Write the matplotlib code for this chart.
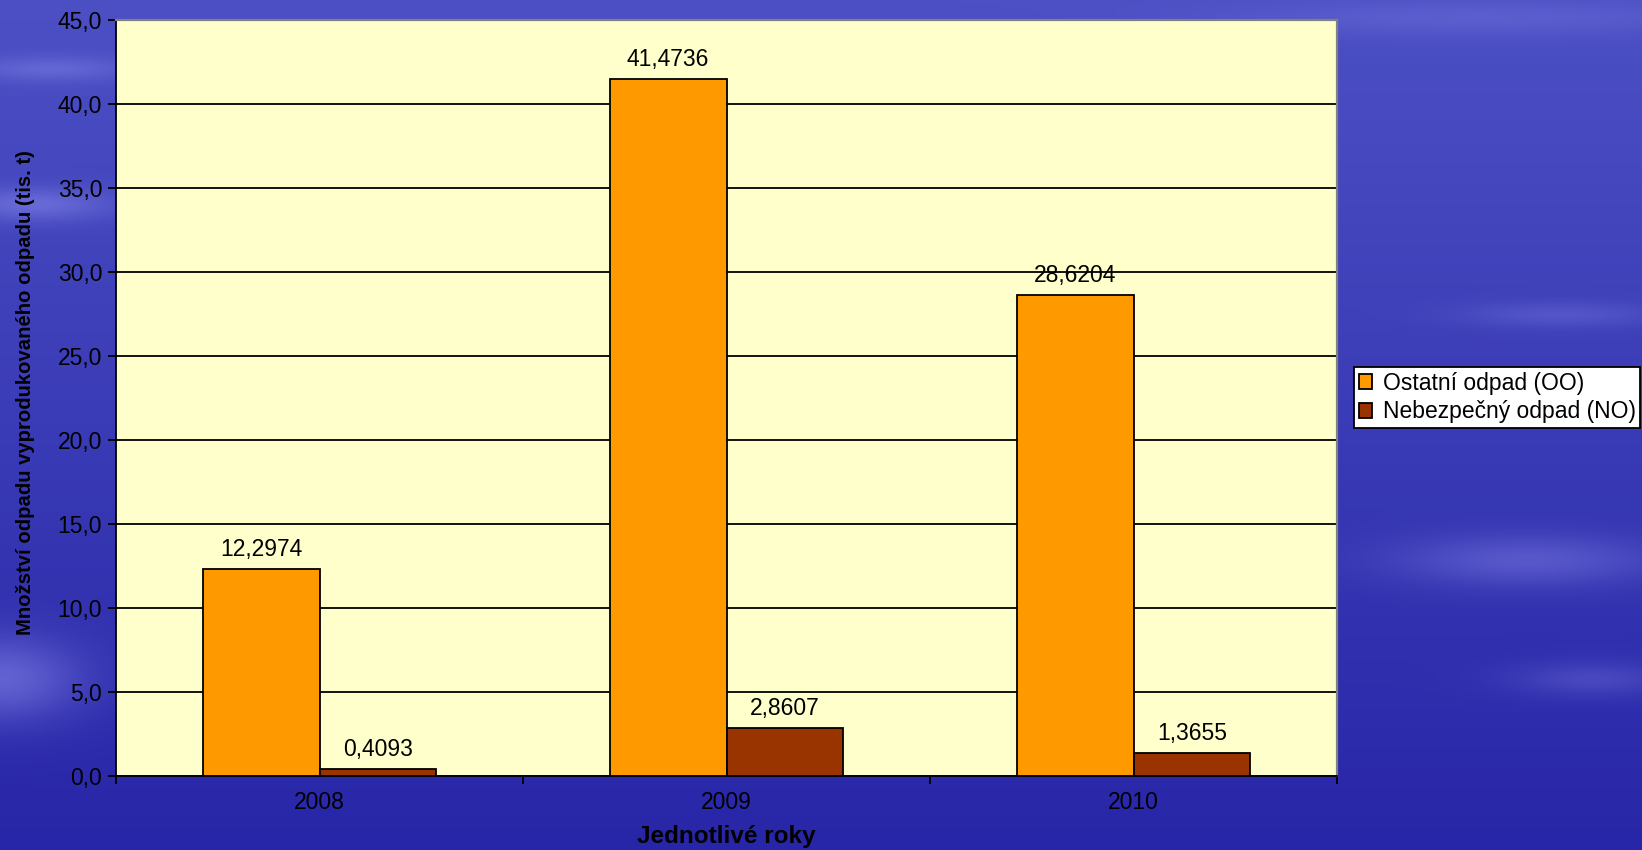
import numpy as np
import matplotlib
matplotlib.use("Agg")
import matplotlib.pyplot as plt
from matplotlib.ticker import FuncFormatter, FixedLocator

plt.rcParams["font.family"] = ["Liberation Sans", "DejaVu Sans"]

years = ["2008", "2009", "2010"]
ostatni = [12.2974, 41.4736, 28.6204]
nebezpecny = [0.4093, 2.8607, 1.3655]
series_names = ["Ostatní odpad (OO)", "Nebezpečný odpad (NO)"]
colors = ["#FF9900", "#993300"]

W, H = 1642, 850
fig = plt.figure(figsize=(W / 100, H / 100), dpi=100)

# Background: blue gradient with soft horizontal streaks
bg = fig.add_axes([0, 0, 1, 1], zorder=-10)
yy, xx = np.mgrid[0:1:400j, 0:1:800j]
base_top = np.array([0x4c, 0x50, 0xc4]) / 255
base_bot = np.array([0x28, 0x26, 0xa8]) / 255
img = base_top[None, None, :] * (1 - yy[..., None]) + base_bot[None, None, :] * yy[..., None]
streak = (0.14 * np.exp(-((yy - 0.24) / 0.02) ** 2) * np.exp(-((xx - 0.02) / 0.05) ** 2)
          + 0.10 * np.exp(-((yy - 0.08) / 0.015) ** 2) * np.exp(-((xx - 0.03) / 0.05) ** 2)
          + 0.20 * np.exp(-((yy - 0.80) / 0.05) ** 2) * np.exp(-((xx - 0.0) / 0.05) ** 2)
          + 0.08 * np.exp(-((yy - 0.37) / 0.015) ** 2) * np.exp(-((xx - 0.95) / 0.06) ** 2)
          + 0.14 * np.exp(-((yy - 0.66) / 0.03) ** 2) * np.exp(-((xx - 0.93) / 0.08) ** 2)
          + 0.10 * np.exp(-((yy - 0.80) / 0.02) ** 2) * np.exp(-((xx - 0.97) / 0.05) ** 2)
          + 0.06 * np.exp(-((yy - 0.02) / 0.02) ** 2) * np.exp(-((xx - 0.9) / 0.15) ** 2))
img = np.clip(img + streak[..., None] * np.array([1.0, 1.0, 0.7]), 0, 1)
bg.imshow(img, aspect="auto", extent=[0, 1, 0, 1], origin="upper")
bg.axis("off")

L, R, T, B = 116, 1337, 20, 776
ax = fig.add_axes([L / W, 1 - B / H, (R - L) / W, (B - T) / H])
ax.set_facecolor("#FFFFCC")

x = np.arange(len(years))
bw = 0.287
b1 = ax.bar(x - bw / 2, ostatni, bw, color=colors[0], edgecolor="black", linewidth=1.3,
            label=series_names[0], zorder=3)
b2 = ax.bar(x + bw / 2, nebezpecny, bw, color=colors[1], edgecolor="black", linewidth=1.3,
            label=series_names[1], zorder=3)

def fmt4(v):
    return f"{v:.4f}".replace(".", ",")

for bars, vals in [(b1, ostatni), (b2, nebezpecny)]:
    for rect, v in zip(bars, vals):
        ax.annotate(fmt4(v), (rect.get_x() + rect.get_width() / 2, v),
                    xytext=(0, 6), textcoords="offset points",
                    ha="center", va="bottom", fontsize=16.5, color="black")

ax.set_xlim(-0.5, 2.5)
ax.set_ylim(0, 45)
ax.yaxis.set_major_locator(FixedLocator(np.arange(0, 46, 5)))
ax.yaxis.set_major_formatter(FuncFormatter(lambda v, p: f"{v:.1f}".replace(".", ",")))
ax.grid(axis="y", color="black", linewidth=1.3, zorder=1)
ax.set_axisbelow(True)

ax.set_xticks([-0.5, 0.5, 1.5, 2.5])
ax.set_xticklabels([])
ax.set_xticks(x, minor=True)
ax.set_xticklabels(years, minor=True)
ax.tick_params(axis="x", which="major", length=6, width=1.3, direction="out", color="black")
ax.tick_params(axis="x", which="minor", length=0, pad=11, labelsize=16.5)
ax.tick_params(axis="y", length=6, width=1.3, direction="out", labelsize=16.5, pad=4)

for s in ["top", "right"]:
    ax.spines[s].set_color("#808080")
    ax.spines[s].set_linewidth(1.6)
for s in ["left", "bottom"]:
    ax.spines[s].set_color("black")
    ax.spines[s].set_linewidth(1.3)

ax.set_ylabel("Množství odpadu vyprodukovaného odpadu (tis. t)", fontsize=14.6,
              fontweight="bold")
ax.yaxis.set_label_coords(-(L - 35) / (R - L), 0.507)
ax.set_xlabel("Jednotlivé roky", fontsize=17.5, fontweight="bold", labelpad=8)

leg = fig.legend(handles=[b1, b2], labels=series_names, loc="upper left",
                 bbox_to_anchor=(1354 / W, 1 - 367 / H), fontsize=16.5,
                 frameon=True, fancybox=False, edgecolor="black", framealpha=1,
                 borderpad=0.2, handlelength=0.6, handleheight=0.6, handletextpad=0.45,
                 labelspacing=0.25, borderaxespad=0)
leg.get_frame().set_linewidth(1.3)

fig.savefig("out.png", dpi=100)
